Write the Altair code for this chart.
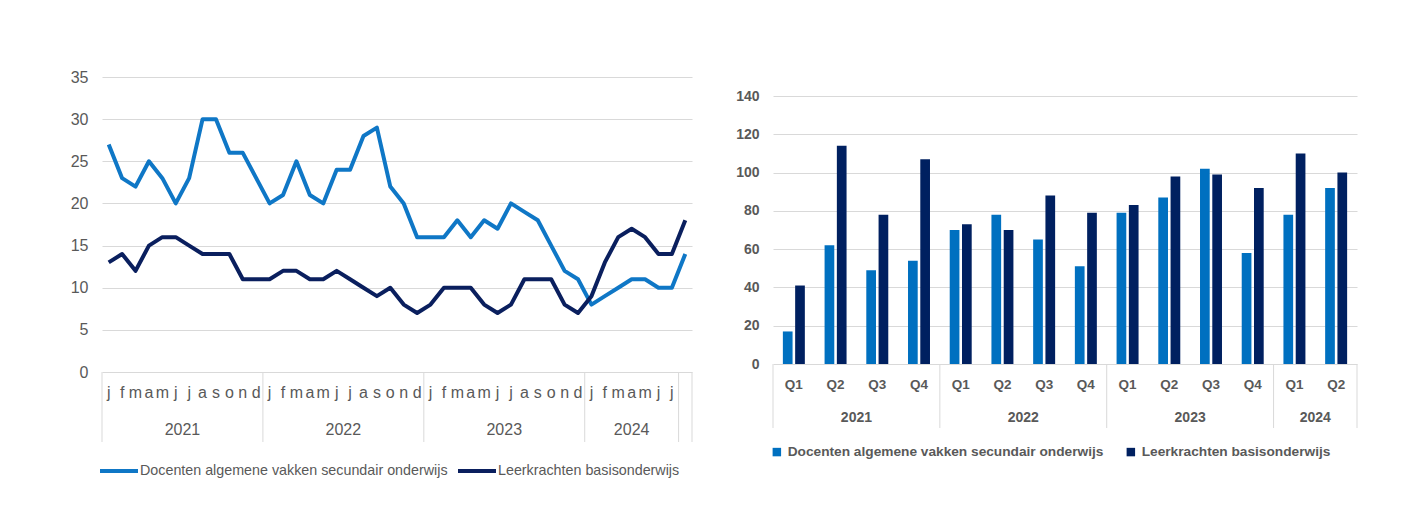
import altair as alt
import pandas as pd

# ---------------- data ----------------
series = ["Docenten algemene vakken secundair onderwijs", "Leerkrachten basisonderwijs"]

month_labels = ["j", "f", "m", "a", "m", "j", "j", "a", "s", "o", "n", "d"] * 3 + ["j", "f", "m", "a", "m", "j", "j", ""]
year_labels = ["2021", "2022", "2023", "2024"]
year_centers_left = [6, 18, 30, 39.5]
year_bounds_left = [0, 12, 24, 36, 43, 44]

docenten_month = [27, 23, 22, 25, 23, 20, 23, 30, 30, 26, 26, 23,
                  20, 21, 25, 21, 20, 24, 24, 28, 29, 22, 20, 16,
                  16, 16, 18, 16, 18, 17, 20, 19, 18, 15, 12, 11,
                  8, 9, 10, 11, 11, 10, 10, 14]
leerkrachten_month = [13, 14, 12, 15, 16, 16, 15, 14, 14, 14, 11, 11,
                      11, 12, 12, 11, 11, 12, 11, 10, 9, 10, 8, 7,
                      8, 10, 10, 10, 8, 7, 8, 11, 11, 11, 8, 7,
                      9, 13, 16, 17, 16, 14, 14, 18]

quarter_labels = ["Q1", "Q2", "Q3", "Q4"] * 3 + ["Q1", "Q2"]
quarter_years = ["2021"] * 4 + ["2022"] * 4 + ["2023"] * 4 + ["2024"] * 2
year_centers_right = [2, 6, 10, 13]
year_bounds_right = [0, 4, 8, 12, 14]
docenten_q = [17, 62, 49, 54, 70, 78, 65, 51, 79, 87, 102, 58, 78, 92]
leerkrachten_q = [41, 114, 78, 107, 73, 70, 88, 79, 83, 98, 99, 92, 110, 100]

# ---------------- style ----------------
FONT_L = "Liberation Sans Narrow, Arial Narrow, Liberation Sans, sans-serif"
FONT_R = "Liberation Sans, Arial, sans-serif"
GRAY = "#595959"
GRID = "#D9D9D9"
LIGHT_LINE = "#0F77C6"
DARK_LINE = "#0A1F5E"
LIGHT_BAR = "#0070C0"
DARK_BAR = "#002060"

# ---------------- left panel (monthly lines) ----------------
n = len(month_labels)
line_df = pd.DataFrame({
    "pos": [i + 0.5 for i in range(n)] * 2,
    "value": docenten_month + leerkrachten_month,
    "series": [series[0]] * n + [series[1]] * n,
})
xl = alt.Scale(domain=[0, n], nice=False, zero=False)

lines = alt.Chart(line_df).mark_line(strokeWidth=4, strokeJoin="round").encode(
    x=alt.X("pos:Q", scale=xl, axis=None),
    y=alt.Y("value:Q", scale=alt.Scale(domain=[0, 35], nice=False),
            axis=alt.Axis(values=list(range(0, 36, 5)), grid=True, gridColor=GRID, gridWidth=1,
                          domain=False, ticks=False, labelFont=FONT_L, labelFontSize=16,
                          labelColor=GRAY, labelPadding=14, title=None)),
    color=alt.Color("series:N", scale=alt.Scale(domain=series, range=[LIGHT_LINE, DARK_LINE]),
                    legend=alt.Legend(orient="none", legendX=-4, legendY=373, direction="horizontal",
                                      title=None, symbolType="stroke", symbolSize=1444,
                                      symbolStrokeWidth=4, labelFont=FONT_L, labelFontSize=14.3,
                                      labelColor=GRAY, labelOffset=0, columnPadding=2, padding=0,
                                      labelLimit=600)),
)

sep_left = alt.Chart(pd.DataFrame({"b": year_bounds_left})).mark_rule(color=GRID, strokeWidth=1).encode(
    x=alt.X("b:Q", scale=xl, axis=None), y=alt.value(295), y2=alt.value(365))

mlab = alt.Chart(pd.DataFrame({"pos": [i + 0.5 for i in range(n)], "lab": month_labels})).mark_text(
    font=FONT_L, fontSize=16, color=GRAY, baseline="middle").encode(
    x=alt.X("pos:Q", scale=xl, axis=None), y=alt.value(316), text="lab:N")

ylab_left = alt.Chart(pd.DataFrame({"pos": year_centers_left, "lab": year_labels})).mark_text(
    font=FONT_L, fontSize=16, color=GRAY, baseline="middle").encode(
    x=alt.X("pos:Q", scale=xl, axis=None), y=alt.value(353), text="lab:N")

anchor = alt.Chart(pd.DataFrame({"a": [0]})).mark_rule(opacity=0).encode(
    x=alt.value(-94), x2=alt.value(1318), y=alt.value(-69), y2=alt.value(433))

left = alt.layer(anchor, sep_left, lines, mlab, ylab_left).properties(width=590, height=295)

# ---------------- right panel (quarterly bars) ----------------
periods = [f"{y} {q}" for y, q in zip(quarter_years, quarter_labels)]
m = len(periods)
bar_df = pd.DataFrame({
    "period": periods * 2,
    "value": docenten_q + leerkrachten_q,
    "series": [series[0]] * m + [series[1]] * m,
})
xr = alt.Scale(domain=[0, m], nice=False, zero=False)

bars = alt.Chart(bar_df).mark_bar().encode(
    x=alt.X("period:N", sort=periods,
            scale=alt.Scale(domain=periods, paddingInner=0.473, paddingOuter=0.2365), axis=None),
    xOffset=alt.XOffset("series:N", scale=alt.Scale(domain=series, paddingInner=0.21, paddingOuter=0)),
    y=alt.Y("value:Q", scale=alt.Scale(domain=[0, 149.93], nice=False),
            axis=alt.Axis(values=list(range(0, 141, 20)), grid=True, gridColor=GRID, gridWidth=1,
                          domain=False, ticks=False, labelFont=FONT_R, labelFontSize=14,
                          labelFontWeight="bold", labelColor=GRAY, labelPadding=14, title=None)),
    color=alt.Color("series:N", scale=alt.Scale(domain=series, range=[LIGHT_BAR, DARK_BAR]),
                    legend=alt.Legend(orient="none", legendX=-3, legendY=368, direction="horizontal",
                                      title=None, symbolType="square", symbolSize=72,
                                      labelFont=FONT_R, labelFontSize=13.7, labelFontWeight="bold",
                                      labelColor=GRAY, labelOffset=4, columnPadding=20, padding=0,
                                      labelLimit=600)),
)

sep_right = alt.Chart(pd.DataFrame({"b": year_bounds_right})).mark_rule(color=GRID, strokeWidth=1).encode(
    x=alt.X("b:Q", scale=xr, axis=None), y=alt.value(287), y2=alt.value(351))

qlab = alt.Chart(pd.DataFrame({"pos": [i + 0.5 for i in range(m)], "lab": quarter_labels})).mark_text(
    font=FONT_R, fontSize=13.5, fontWeight="bold", color=GRAY, baseline="middle").encode(
    x=alt.X("pos:Q", scale=xr, axis=None), y=alt.value(308), text="lab:N")

ylab_right = alt.Chart(pd.DataFrame({"pos": year_centers_right, "lab": year_labels})).mark_text(
    font=FONT_R, fontSize=14, fontWeight="bold", color=GRAY, baseline="middle").encode(
    x=alt.X("pos:Q", scale=xr, axis=None), y=alt.value(341), text="lab:N")

right = alt.layer(bars, sep_right, qlab, ylab_right).resolve_scale(x="independent").properties(
    width=584, height=287)

chart = alt.hconcat(left, right, spacing=81, bounds="flush").resolve_scale(
    color="independent").properties(padding=0).configure_view(strokeWidth=0)

chart.save("out.html", embed_options={"renderer": "svg", "actions": False})
